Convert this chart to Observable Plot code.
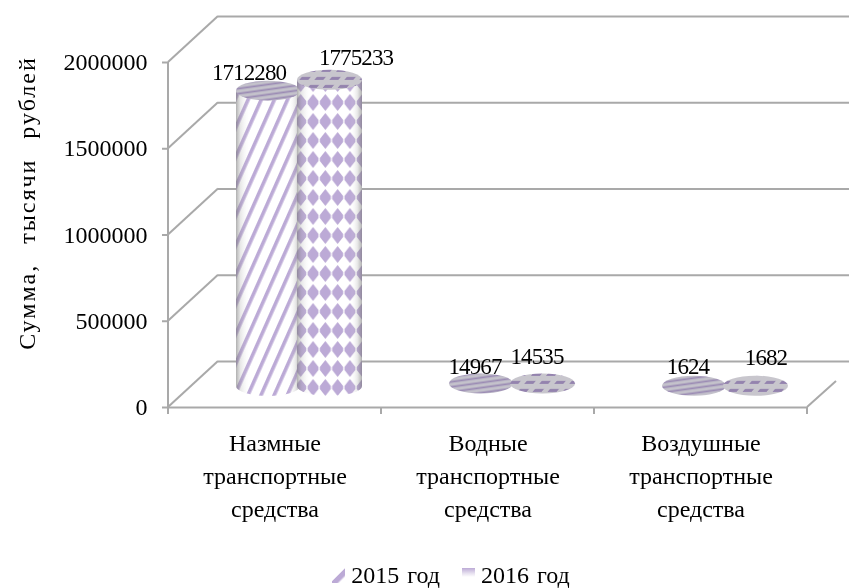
<!DOCTYPE html>
<html><head><meta charset="utf-8">
<script src="https://cdn.jsdelivr.net/npm/d3@7"></script>
<script src="https://cdn.jsdelivr.net/npm/@observablehq/plot@0.6"></script>
<style>
html,body{margin:0;padding:0;background:#fff}
body{width:849px;height:588px;overflow:hidden;position:relative;font-family:"Liberation Serif",serif;color:#000}
svg{font-family:"Liberation Serif",serif;filter:blur(.45px)}
.num text{letter-spacing:-.9px}
.ttl text{letter-spacing:2px;word-spacing:12px}
#legend{position:absolute;left:0;right:0;top:558px;height:30px;text-align:center;font-size:24px;line-height:34px;word-spacing:2px;padding-left:53px;filter:blur(.35px)}
#legend i{display:inline-block;width:13px;height:15px;vertical-align:0;margin:0 6px 0 0}
#legend span{margin:0 11px}
</style></head><body>
<div id="chart"></div>
<div id="legend"></div>
<script>
const categories = ["Назмные\nтранспортные\nсредства","Водные\nтранспортные\nсредства","Воздушные\nтранспортные\nсредства"];
const values2015 = [1712280,14967,1624];
const values2016 = [1775233,14535,1682];
const yTicks = [0,500000,1000000,1500000,2000000];
const yTitle = "Сумма, тысячи рублей";
const seriesNames = ["2015 год","2016 год"];

const purple="#bcaad6", wall="#a9a9a9";
const depth={dx:50,dy:-46}, mid={dx:24,dy:-21};
const ins={a:{insetLeft:44,insetRight:105},b:{insetLeft:105,insetRight:43}};
const nudge15=[[-26,-40],[-13,-38],[-13,-41]], nudge16=[[81,-44],[49,-48],[65,-50]];
const row=(vals)=>vals.map((v,i)=>({c:categories[i],v}));
const d15=row(values2015), d16=row(values2016);

function defs(){
  const s=d3.create("svg:g"); const d=s.append("defs");
  const st=d.append("pattern").attr("id","stripes").attr("patternUnits","userSpaceOnUse").attr("width",12).attr("height",12).attr("patternTransform","rotate(24)");
  st.append("rect").attr("width",12).attr("height",12).attr("fill","#fff");
  st.append("rect").attr("width",3.6).attr("height",12).attr("fill",purple);
  const di=d.append("pattern").attr("id","diamonds").attr("patternUnits","userSpaceOnUse").attr("width",12.3).attr("height",19);
  di.append("rect").attr("width",12.3).attr("height",19).attr("fill","#fff");
  di.append("path").attr("d","M6.15 1L11.6 8L11.6 11L6.15 18L.7 11L.7 8Z").attr("fill",purple);
  const t1=d.append("pattern").attr("id","topA").attr("patternUnits","userSpaceOnUse").attr("width",14).attr("height",5).attr("patternTransform","rotate(-8)");
  t1.append("rect").attr("width",14).attr("height",5).attr("fill","#c4c2cb");
  t1.append("rect").attr("y",2.5).attr("width",14).attr("height",1.8).attr("fill","#9b8bb4");
  const t2=d.append("pattern").attr("id","topB").attr("patternUnits","userSpaceOnUse").attr("width",15).attr("height",8).attr("patternTransform","skewX(-40)");
  t2.append("rect").attr("width",15).attr("height",8).attr("fill","#c8c6cd");
  t2.append("rect").attr("y",2).attr("width",9).attr("height",3).attr("fill","#9483ae");
  const g=d.append("linearGradient").attr("id","shade");
  [[0,"#6e6e6e",.55],[.07,"#8a8a8a",.2],[.22,"#fff",0],[.82,"#fff",0],[.93,"#888",.2],[1,"#6e6e6e",.55]].forEach(([o,c,a])=>
    g.append("stop").attr("offset",o).attr("stop-color",c).attr("stop-opacity",a));
  return s.node();
}
function cylinder(data,fill,top,inset){
  const base={x:"c",...mid,...inset};
  const ell={rx:32,ry:10,insetTop:-10,insetBottom:-10};
  const tall=data.filter(d=>d.v>100000);
  return [
    Plot.barY(tall,{...base,y1:()=>0,y2:()=>0,fill,...ell}),
    Plot.barY(tall,{...base,y1:()=>0,y2:()=>0,fill:"url(#shade)",...ell}),
    Plot.barY(tall,{...base,y1:()=>0,y2:"v",fill}),
    Plot.barY(tall,{...base,y1:()=>0,y2:"v",fill:"url(#shade)"}),
    Plot.barY(data,{...base,y1:"v",y2:"v",fill:top,...ell})
  ];
}
const labels=(data,nudge)=>data.map((d,i)=>Plot.text([d],{x:"c",y:"v",text:e=>String(e.v),dx:nudge[i][0],dy:nudge[i][1],fontSize:23,className:"num",fill:"#000"}));
// 3-D box lines and axis ticks: a function mark built on Plot's own scales
const box=(index,{x,y},_,dim)=>{
  const g=d3.create("svg:g").attr("stroke",wall).attr("stroke-width",2).attr("fill","none");
  const x0=dim.marginLeft, xr=dim.width-dim.marginRight;
  yTicks.forEach(t=>g.append("line").attr("x1",x0).attr("y1",y(t)).attr("x2",x0+depth.dx).attr("y2",y(t)+depth.dy));
  g.append("line").attr("x1",x0).attr("y1",y(0)).attr("x2",x0).attr("y2",y(2000000));
  g.append("line").attr("x1",xr).attr("y1",y(0)).attr("x2",xr+29).attr("y2",y(0)-26);
  [...categories.map(c=>x(c)),xr].forEach(px=>g.append("line").attr("x1",px).attr("y1",y(0)).attr("x2",px).attr("y2",y(0)+7));
  return g.node();
};

const chart=Plot.plot({
  width:849,height:540,marginLeft:168,marginRight:42,marginTop:62,marginBottom:133,
  style:{background:"#fff",fontFamily:'"Liberation Serif",serif',color:"#000",overflow:"visible"},
  x:{domain:categories,padding:0,axis:null},
  y:{domain:[0,2000000],axis:null},
  marks:[
    ()=>defs(),
    Plot.ruleY(yTicks,{...depth,stroke:wall,strokeWidth:2}),
    box,
    Plot.ruleY([0],{stroke:wall,strokeWidth:2}),
    Plot.axisY({ticks:yTicks,tickSize:6,stroke:wall,strokeWidth:2,tickFormat:d=>String(d),fontSize:24,tickPadding:15,label:null,color:"#000"}),
    Plot.axisX({tickSize:0,tickPadding:20,fontSize:24,label:null,lineHeight:1.375,color:"#000",lineWidth:20}),
    ...cylinder(d15,"url(#stripes)","url(#topA)",ins.a),
    ...cylinder(d16,"url(#diamonds)","url(#topB)",ins.b),
    ...labels(d15,nudge15),
    ...labels(d16,nudge16),
    Plot.text([yTitle],{frameAnchor:"left",textAnchor:"middle",rotate:-90,dx:-141,dy:-32,fontSize:24,className:"ttl",fill:"#000"})
  ]
});
document.getElementById("chart").appendChild(chart);
document.getElementById("legend").innerHTML=
 `<span><i style="background:linear-gradient(135deg,#fff 45%,${purple} 50%,${purple} 70%,#fff 80%)"></i>${seriesNames[0]}</span>`+
 `<span><i style="background:linear-gradient(180deg,${purple} 0,#e6e0ef 35%,#fff 60%)"></i>${seriesNames[1]}</span>`;
</script></body></html>
